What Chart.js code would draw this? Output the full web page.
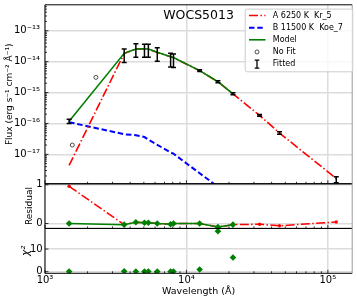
<!DOCTYPE html>
<html>
<head>
<meta charset="utf-8">
<script src="https://cdn.jsdelivr.net/npm/chart.js@4/dist/chart.umd.min.js"></script>
<style>
  html, body { margin: 0; padding: 0; background: #fff; }
  canvas { display: block; }
</style>
</head>
<body>
<canvas id="sedChart" width="357" height="302"></canvas>
<script>
// photometry (wavelength in Angstrom, flux in erg/s/cm2/A)
const fitWave   = [1481, 3630, 4390, 5050, 5380, 6220, 7730, 8100, 12400, 16700, 21330, 32900, 45500, 114600];
const fitFlux   = [1.17e-16, 1.55e-14, 2.29e-14, 2.24e-14, 2.24e-14, 1.70e-14, 1.12e-14, 1.07e-14, 5.13e-15, 2.24e-15, 9.1e-16, 1.82e-16, 4.9e-17, 1.51e-18];
const fitErrDex = [0.07, 0.22, 0.22, 0.21, 0.21, 0.22, 0.22, 0.22, 0.03, 0.03, 0.03, 0.03, 0.04, 0.10];
const noFitWave = [1560, 2290];
const noFitFlux = [2.0e-17, 3.1e-15];

// model components
const compAFlux = [4.4e-18, 1.84e-14, 2.56e-14, 2.59e-14, 2.54e-14, 1.99e-14, 1.44e-14, 1.34e-14, 5.1e-15, 2.23e-15, 9.1e-16, 1.82e-16, 4.9e-17, 1.65e-18];
const compBFlux = [1.10e-16, 4.47e-17, 4.17e-17, 3.63e-17, 3.02e-17, 2.04e-17, 1.15e-17, 1.05e-17, 2.45e-18, 8.9e-19];
const modelFlux = [1.17e-16, 1.86e-14, 2.57e-14, 2.60e-14, 2.55e-14, 2.00e-14, 1.45e-14, 1.35e-14, 5.13e-15, 2.24e-15, 9.1e-16];

// lower panels
const residModel = [0.00, -0.03, 0.03, 0.02, 0.02, 0.00, -0.02, 0.00, 0.00, -0.09, -0.03];
const residA     = [0.96, -0.03, 0.03, 0.02, 0.02, 0.00, -0.02, 0.00, 0.00, -0.09, -0.03, -0.02, -0.06, 0.04];
const chi2       = [0.1, 0.2, 0.1, 0.1, 0.1, 0.1, 0.1, 0.1, 1.0, 17.9, 6.3];

// ticks
const xTicks    = [1e3, 1e4, 1e5];
const fluxTicks = [1e-17, 1e-16, 1e-15, 1e-14, 1e-13];
const resTicks  = [0, 1];
const chiTicks  = [0, 10];

const FONT = 'DejaVu Sans';
const RED = '#ff0000', BLUE = '#0000ff', GREEN = '#008000';
const GRID = '#dcdcdc';
const DASHDOT = [9, 2.4, 1.5, 2.4];
const DASHED = [5.5, 2.8];

const SUP = { '-': '\u207B', '0': '\u2070', '1': '\u00B9', '2': '\u00B2', '3': '\u00B3', '4': '\u2074',
              '5': '\u2075', '6': '\u2076', '7': '\u2077', '8': '\u2078', '9': '\u2079' };
function powLabel(v) {
    const e = Math.round(Math.log10(v));
    return '10' + String(e).split('').map(c => SUP[c]).join('');
}
const toPoints = (xs, ys) => ys.map((y, i) => ({ x: xs[i], y: y }));

// minor tick positions
const xMinor = [];
for (const d of [1e3, 1e4, 1e5]) for (let k = 2; k <= 9; k++) if (d * k < 1.48e5) xMinor.push(d * k);
const fluxMinor = [];
for (let e = -18; e <= -13; e++) for (let k = 2; k <= 9; k++) fluxMinor.push(k * Math.pow(10, e));

const datasets = [
    { label: 'Fitted', data: toPoints(fitWave, fitFlux), yAxisID: 'yFlux', showLine: false, pointRadius: 0, order: 1 },
    { label: 'No Fit', data: toPoints(noFitWave, noFitFlux), yAxisID: 'yFlux', showLine: false,
      pointStyle: 'circle', pointRadius: 2, pointBorderWidth: 0.8, pointBorderColor: '#222', pointBackgroundColor: '#fff', order: 2 },
    { label: 'Model', data: toPoints(fitWave, modelFlux), yAxisID: 'yFlux', borderColor: GREEN, borderWidth: 1.6, pointRadius: 0, order: 3 },
    { label: 'A 6250 K  Kr_5', data: toPoints(fitWave, compAFlux), yAxisID: 'yFlux', borderColor: RED, borderWidth: 1.6,
      borderDash: DASHDOT, pointRadius: 0, order: 4 },
    { label: 'B 11500 K  Koe_7', data: toPoints(fitWave, compBFlux), yAxisID: 'yFlux', borderColor: BLUE, borderWidth: 2,
      borderDash: DASHED, pointRadius: 0, order: 5 },
    { label: 'res model', data: toPoints(fitWave, residModel), yAxisID: 'yRes', borderColor: GREEN, borderWidth: 1.5,
      pointStyle: 'rectRot', pointRadius: 3.3, pointBorderWidth: 0, pointBackgroundColor: GREEN, order: 6 },
    { label: 'res A', data: toPoints(fitWave, residA), yAxisID: 'yRes', borderColor: RED, borderWidth: 1.5, borderDash: DASHDOT,
      pointStyle: 'circle', pointRadius: 1.7, pointBorderWidth: 0, pointBackgroundColor: RED, order: 7 },
    { label: 'chi2', data: toPoints(fitWave, chi2), yAxisID: 'yChi', showLine: false,
      pointStyle: 'rectRot', pointRadius: 3.3, pointBorderWidth: 0, pointBackgroundColor: GREEN, order: 8 }
];

// error bars of the fitted points
const errorBars = {
    id: 'errorBars',
    afterDatasetsDraw(chart) {
        const ctx = chart.ctx;
        const ys = chart.scales.yFlux;
        const meta = chart.getDatasetMeta(0);
        ctx.save();
        ctx.beginPath();
        ctx.rect(chart.chartArea.left, ys.top, chart.chartArea.width, ys.height);
        ctx.clip();
        ctx.strokeStyle = '#000';
        ctx.lineWidth = 1.5;
        meta.data.forEach((pt, i) => {
            const f = fitFlux[i];
            const lo = ys.getPixelForValue(f / Math.pow(10, fitErrDex[i]));
            const hi = ys.getPixelForValue(f * Math.pow(10, fitErrDex[i]));
            ctx.beginPath();
            ctx.moveTo(pt.x, lo); ctx.lineTo(pt.x, hi);
            ctx.moveTo(pt.x - 2.5, lo); ctx.lineTo(pt.x + 2.5, lo);
            ctx.moveTo(pt.x - 2.5, hi); ctx.lineTo(pt.x + 2.5, hi);
            ctx.stroke();
        });
        ctx.restore();
    }
};

// spines, inside ticks, title and legend
const decorations = {
    id: 'decorations',
    afterDatasetsDraw(chart) {
        const { ctx, chartArea: a, scales } = chart;
        const x = scales.x;
        const panels = [scales.yFlux, scales.yRes, scales.yChi];
        ctx.save();
        ctx.strokeStyle = '#000';
        ctx.lineWidth = 0.8;
        const seg = (x1, y1, x2, y2) => { ctx.beginPath(); ctx.moveTo(x1, y1); ctx.lineTo(x2, y2); ctx.stroke(); };
        for (const s of panels) {
            for (const v of xMinor) { const px = x.getPixelForValue(v); seg(px, s.bottom, px, s.bottom - 2); }
            for (const v of xTicks) { const px = x.getPixelForValue(v); seg(px, s.bottom, px, s.bottom - 3.5); }
        }
        for (const v of fluxMinor) {
            const py = scales.yFlux.getPixelForValue(v);
            if (py > scales.yFlux.top && py < scales.yFlux.bottom) seg(a.left, py, a.left + 2, py);
        }
        for (const v of fluxTicks) { const py = scales.yFlux.getPixelForValue(v); seg(a.left, py, a.left + 3.5, py); }
        for (const v of resTicks) { const py = scales.yRes.getPixelForValue(v); seg(a.left, py, a.left + 3.5, py); }
        for (const v of chiTicks) { const py = scales.yChi.getPixelForValue(v); seg(a.left, py, a.left + 3.5, py); }

        ctx.lineWidth = 1;
        for (const s of panels) {
            seg(a.left, s.top, a.right, s.top);
            seg(a.left, s.bottom, a.right, s.bottom);
        }
        seg(a.left, a.top, a.left, a.bottom);
        ctx.strokeStyle = '#9a9a9a';
        seg(a.right, a.top, a.right, a.bottom);

        ctx.fillStyle = '#000';
        ctx.font = '12.5px "' + FONT + '"';
        ctx.textAlign = 'center';
        ctx.textBaseline = 'middle';
        ctx.fillText('WOCS5013', (a.left + a.right) / 2, a.top + 10.7);
        ctx.restore();
    },
    afterDraw(chart) {
        const { ctx, chartArea: a } = chart;
        const ds = chart.data.datasets;
        const bx = a.right - 107, by = a.top + 4.3, bw = 107.6, bh = 62.7;
        ctx.save();
        ctx.fillStyle = 'rgba(255,255,255,0.8)';
        ctx.strokeStyle = '#cccccc';
        ctx.lineWidth = 1;
        ctx.beginPath();
        ctx.roundRect(bx, by, bw, bh, 2);
        ctx.fill();
        ctx.stroke();

        const rows = [ds[3], ds[4], ds[2], ds[1], ds[0]];
        const sx1 = bx + 3.8, sx2 = bx + 20.3, mx = bx + 11.8, tx = bx + 27.6;
        rows.forEach((d, i) => {
            const y = by + 6.4 + i * 12.15;
            if (i < 3) {
                ctx.strokeStyle = d.borderColor;
                ctx.lineWidth = d.borderWidth;
                ctx.setLineDash(d.borderDash || []);
                ctx.beginPath(); ctx.moveTo(sx1, y); ctx.lineTo(sx2, y); ctx.stroke();
                ctx.setLineDash([]);
            } else if (i === 3) {
                ctx.fillStyle = '#fff'; ctx.strokeStyle = '#222'; ctx.lineWidth = 0.8;
                ctx.beginPath(); ctx.arc(mx, y, 2, 0, Math.PI * 2); ctx.fill(); ctx.stroke();
            } else {
                ctx.strokeStyle = '#000'; ctx.lineWidth = 1.3;
                ctx.beginPath();
                ctx.moveTo(mx, y - 4); ctx.lineTo(mx, y + 4);
                ctx.moveTo(mx - 2.3, y - 4); ctx.lineTo(mx + 2.3, y - 4);
                ctx.moveTo(mx - 2.3, y + 4); ctx.lineTo(mx + 2.3, y + 4);
                ctx.stroke();
            }
            ctx.fillStyle = '#000';
            ctx.font = '8px "' + FONT + '"';
            ctx.textAlign = 'left';
            ctx.textBaseline = 'middle';
            ctx.fillText(d.label, tx, y);
        });
        ctx.restore();
    }
};

const tickFont = { family: FONT, size: 10 };
const yFit = s => { s.width = 45; s.paddingTop = 0; s.paddingBottom = 0; };

new Chart(document.getElementById('sedChart').getContext('2d'), {
    type: 'line',
    data: { datasets: datasets },
    options: {
        responsive: false,
        animation: false,
        events: [],
        devicePixelRatio: 1,
        layout: { padding: { left: 0, right: 4.3, top: 4, bottom: 0 } },
        elements: { line: { tension: 0, fill: false } },
        plugins: { legend: { display: false }, tooltip: { enabled: false } },
        scales: {
            x: {
                type: 'logarithmic', position: 'bottom', min: 1000, max: 148600,
                afterBuildTicks: s => { s.ticks = xTicks.map(v => ({ value: v, major: true })); },
                afterFit: s => { s.height = 28.7; s.paddingLeft = 0; s.paddingRight = 0; },
                ticks: { callback: v => powLabel(v), font: tickFont, color: '#000', padding: 1, maxRotation: 0, autoSkip: false },
                grid: { color: GRID, lineWidth: 1.5, drawTicks: false },
                border: { display: false },
                title: { display: true, text: 'Wavelength (\u00C5)', font: { family: FONT, size: 9.5 }, color: '#000', padding: { top: 0, bottom: 4.3 } }
            },
            yChi: {
                type: 'linear', position: 'left', stack: 'sed', stackWeight: 45, weight: 1, min: -0.7, max: 19.1,
                afterBuildTicks: s => { s.ticks = chiTicks.map(v => ({ value: v })); },
                afterFit: yFit,
                ticks: { font: tickFont, color: '#000', padding: 2.3 },
                grid: { color: GRID, lineWidth: 1.5, drawTicks: false },
                border: { display: false },
                title: { display: true, text: '\u03C7\u00B2', font: { family: FONT, size: 10.5, style: 'italic' }, color: '#000',
                         padding: { top: 19.5, bottom: 0 } }
            },
            yRes: {
                type: 'linear', position: 'left', stack: 'sed', stackWeight: 44.8, weight: 2, min: -0.128, max: 1.026,
                afterBuildTicks: s => { s.ticks = resTicks.map(v => ({ value: v })); },
                afterFit: yFit,
                ticks: { font: tickFont, color: '#000', padding: 2.3 },
                grid: { color: GRID, lineWidth: 1.5, drawTicks: false },
                border: { display: false },
                title: { display: true, text: 'Residual', font: { family: FONT, size: 9 }, color: '#000', padding: { top: 24.6, bottom: 0 } }
            },
            yFlux: {
                type: 'logarithmic', position: 'left', stack: 'sed', stackWeight: 179.5, weight: 3, min: 1.117e-18, max: 6.9e-13,
                afterBuildTicks: s => { s.ticks = fluxTicks.map(v => ({ value: v })); },
                afterFit: yFit,
                ticks: { callback: v => powLabel(v), font: tickFont, color: '#000', padding: 5 },
                grid: { color: GRID, lineWidth: 1.5, drawTicks: false },
                border: { display: false },
                title: { display: true, text: 'Flux (erg s\u207B\u00B9 cm\u207B\u00B2 \u00C5\u207B\u00B9)', font: { family: FONT, size: 9 },
                         color: '#000', padding: { top: 4, bottom: 0 } }
            }
        }
    },
    plugins: [errorBars, decorations]
});
</script>
</body>
</html>
